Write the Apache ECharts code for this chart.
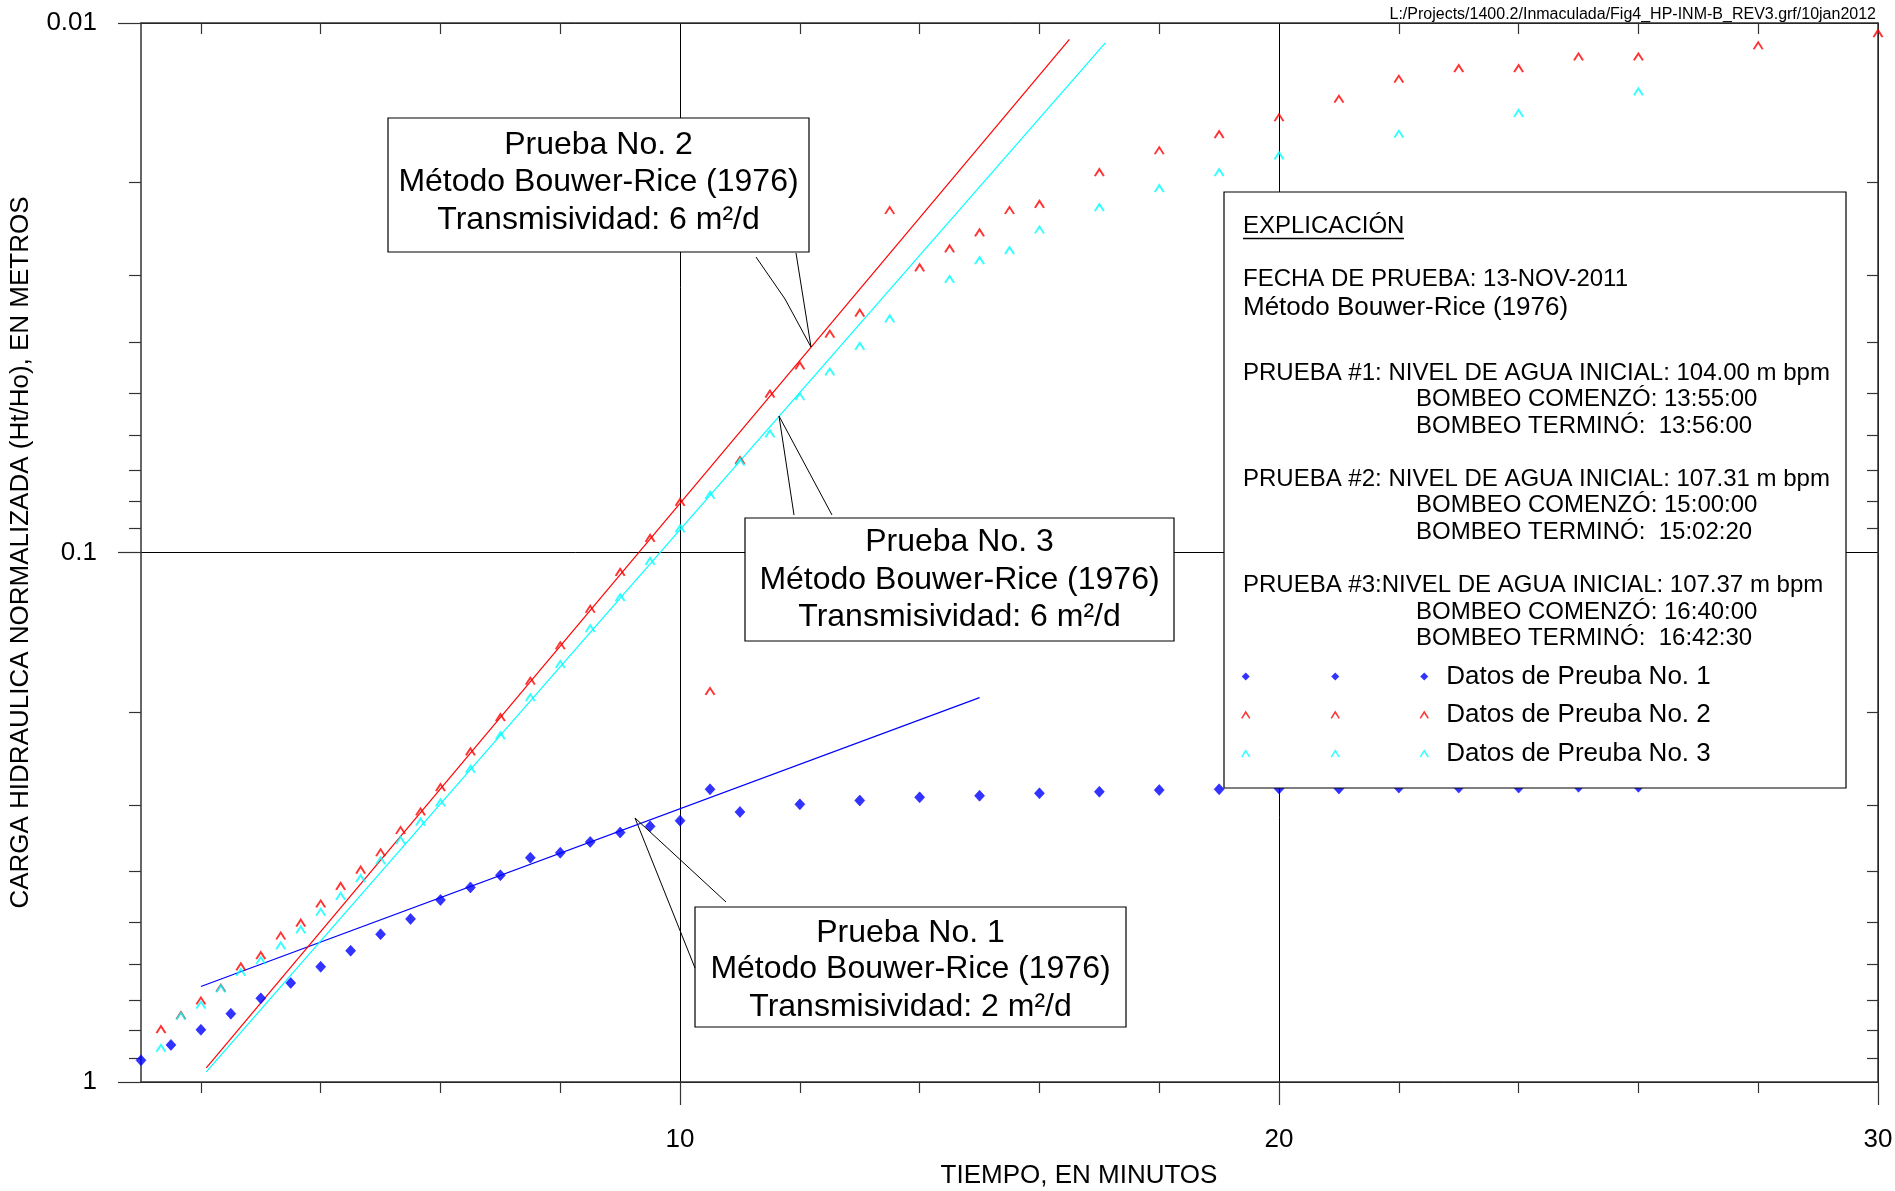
<!DOCTYPE html>
<html><head><meta charset="utf-8">
<script src="https://cdn.jsdelivr.net/npm/echarts@6/dist/echarts.min.js"></script>
<style>html,body{margin:0;padding:0;background:#fff}#c{width:1895px;height:1191px}</style>
</head><body><div id="c"></div>
<script>
const FONT = "'Liberation Sans', Arial, Helvetica, sans-serif";

// ---------- DATA ----------
const seriesNames = ['Datos de Preuba No. 1', 'Datos de Preuba No. 2', 'Datos de Preuba No. 3'];

// Prueba No. 1 (tiempo en minutos, Ht/Ho)
const t1 = [1, 1.5, 2, 2.5, 3, 3.5, 4, 4.5, 5, 5.5, 6, 6.5, 7, 7.5, 8, 8.5, 9, 9.5, 10, 10.5,
            11, 12, 13, 14, 15, 16, 17, 18, 19, 20, 21, 22, 23, 24, 25, 26];
const h1 = [0.91, 0.851, 0.797, 0.743, 0.695, 0.650, 0.606, 0.565, 0.526, 0.492, 0.453, 0.429, 0.407, 0.377, 0.369, 0.352, 0.338, 0.329, 0.321, 0.280,
            0.309, 0.299, 0.294, 0.290, 0.288, 0.285, 0.283, 0.281, 0.280, 0.279, 0.279, 0.278, 0.278, 0.278, 0.277, 0.277];

// Prueba No. 2
const t2 = [1.333, 1.667, 2, 2.333, 2.667, 3, 3.333, 3.667, 4, 4.333, 4.667, 5, 5.333, 5.667, 6,
            6.5, 7, 7.5, 8, 8.5, 9, 9.5, 10, 10.5, 11, 11.5, 12, 12.5, 13, 13.5, 14, 14.5, 15, 15.5, 16,
            17, 18, 19, 20, 21, 22, 23, 24, 25, 26, 28, 30];
const h2 = [0.796, 0.749, 0.703, 0.665, 0.606, 0.577, 0.530, 0.501, 0.461, 0.427, 0.398, 0.369, 0.335, 0.309, 0.278,
            0.238, 0.205, 0.175, 0.150, 0.128, 0.109, 0.094, 0.0804, 0.183, 0.067, 0.0502, 0.0444, 0.0387, 0.0353, 0.0226, 0.0290, 0.0267, 0.0249, 0.0226, 0.0220,
            0.01916, 0.01743, 0.01625, 0.01510, 0.01393, 0.01277, 0.01219, 0.01219, 0.01159, 0.01159, 0.01104, 0.01047];

// Prueba No. 3
const t3 = [1.333, 1.667, 2, 2.333, 2.667, 3, 3.333, 3.667, 4, 4.333, 4.667, 5, 5.333, 5.667, 6,
            6.5, 7, 7.5, 8, 8.5, 9, 9.5, 10, 10.5, 11, 11.5, 12, 12.5, 13, 13.5, 14.5, 15, 15.5, 16,
            17, 18, 19, 20, 22, 24, 26];
const h3 = [0.864, 0.751, 0.716, 0.667, 0.621, 0.590, 0.553, 0.516, 0.478, 0.446, 0.413, 0.382, 0.350, 0.323, 0.297,
            0.2567, 0.222, 0.188, 0.1627, 0.1393, 0.1217, 0.1039, 0.0902, 0.078, 0.0675, 0.0597, 0.0508, 0.0456, 0.0408, 0.0362, 0.0305, 0.0281, 0.0269, 0.0246,
            0.02231, 0.02054, 0.01916, 0.01782, 0.01622, 0.01481, 0.01349];

// Bouwer-Rice straight-line fits (end points)
const fit1T = [2.0, 15.0];  const fit1H = [0.660, 0.188];
const fit2T = [2.09, 16.5]; const fit2H = [0.9406, 0.01074];
const fit3T = [2.09, 17.1]; const fit3H = [0.957, 0.0109];

// Axis ticks / labels
const xMajor = [10, 20, 30];
const xMinor = [2, 4, 6, 8, 12, 14, 16, 18, 22, 24, 26, 28];
const yDecadeExp = [-2, -1];
const yMinorFactors = [2, 3, 4, 5, 6, 7, 8, 9];

// ---------- STYLE / LAYOUT ----------
const BLUE = '#0000ff', RED = '#ff0000', CYAN = '#00ffff';
const CARET = 'path://M0,8L5,0L10,8';
const AX = '#333';
const yMinorLog = [];
yDecadeExp.forEach(d => yMinorFactors.forEach(f => yMinorLog.push(d + Math.log10(f))));

const pair = (t, h) => t.map((v, i) => [v, h[i]]);

const annotBoxes = [
  {x: 388, y: 118, w: 421, h: 134, cx: 598.5,
   lines: ['Prueba No. 2', 'Método Bouwer-Rice (1976)', 'Transmisividad: 6 m²/d'], ly: [145, 182.4, 220],
   leaders: [[[756, 257], [785, 299], [811, 347]], [[796, 253], [811, 347]]]},
  {x: 745, y: 518, w: 429, h: 123, cx: 959.5,
   lines: ['Prueba No. 3', 'Método Bouwer-Rice (1976)', 'Transmisividad: 6 m²/d'], ly: [542.4, 580, 617.4],
   leaders: [[[794, 515], [779, 416]], [[832, 515], [779, 416]]]},
  {x: 695, y: 907, w: 431, h: 120, cx: 910.5,
   lines: ['Prueba No. 1', 'Método Bouwer-Rice (1976)', 'Transmisividad: 2 m²/d'], ly: [933, 969.3, 1006.8],
   leaders: [[[695, 968], [635, 818]], [[726, 902], [635, 818]]]}
];

const explBox = {x: 1224, y: 192, w: 622, h: 596};
const explTexts = [
  {t: 'EXPLICACIÓN', x: 1243, y: 226.5, s: 24},
  {t: 'FECHA DE PRUEBA: 13-NOV-2011', x: 1243, y: 279, s: 24},
  {t: 'Método Bouwer-Rice (1976)', x: 1243, y: 308, s: 26},
  {t: 'PRUEBA #1: NIVEL DE AGUA INICIAL: 104.00 m bpm', x: 1243, y: 373, s: 24},
  {t: 'BOMBEO COMENZÓ: 13:55:00', x: 1416, y: 399.4, s: 24},
  {t: 'BOMBEO TERMINÓ:  13:56:00', x: 1416, y: 426, s: 24},
  {t: 'PRUEBA #2: NIVEL DE AGUA INICIAL: 107.31 m bpm', x: 1243, y: 479.2, s: 24},
  {t: 'BOMBEO COMENZÓ: 15:00:00', x: 1416, y: 505.8, s: 24},
  {t: 'BOMBEO TERMINÓ:  15:02:20', x: 1416, y: 532.4, s: 24},
  {t: 'PRUEBA #3:NIVEL DE AGUA INICIAL: 107.37 m bpm', x: 1243, y: 585.6, s: 24},
  {t: 'BOMBEO COMENZÓ: 16:40:00', x: 1416, y: 612.1, s: 24},
  {t: 'BOMBEO TERMINÓ:  16:42:30', x: 1416, y: 638.8, s: 24}
];
const legendColX = [1245, 1334.5, 1423.5];

// ---------- GRAPHIC ----------
const graphic = [];
annotBoxes.forEach(b => {
  graphic.push({type: 'rect', z: 50, shape: {x: b.x, y: b.y, width: b.w, height: b.h},
    style: {fill: '#fff', stroke: '#000', lineWidth: 1.2}});
  b.lines.forEach((l, i) => graphic.push({type: 'text', z: 51, x: b.cx, y: b.ly[i],
    style: {text: l, fill: '#000', fontSize: 32, fontFamily: FONT, align: 'center', verticalAlign: 'middle'}}));
  b.leaders.forEach(p => graphic.push({type: 'polyline', z: 51, shape: {points: p},
    style: {stroke: '#000', lineWidth: 1, fill: null}}));
});
graphic.push({type: 'rect', z: 50, shape: {x: explBox.x, y: explBox.y, width: explBox.w, height: explBox.h},
  style: {fill: '#fff', stroke: '#000', lineWidth: 1.2}});
explTexts.forEach(e => graphic.push({type: 'text', z: 51, x: e.x, y: e.y,
  style: {text: e.t, fill: '#000', fontSize: e.s, fontFamily: FONT, align: 'left', verticalAlign: 'middle'}}));
graphic.push({type: 'line', z: 51, shape: {x1: 1243, y1: 238.5, x2: 1404, y2: 238.5}, style: {stroke: '#000', lineWidth: 1.6}});

// ---------- LEGENDS (three symbol columns, text only on the last) ----------
const legendData = [
  {name: seriesNames[0], icon: 'diamond', itemStyle: {color: BLUE, borderWidth: 0}},
  {name: seriesNames[1], icon: CARET, itemStyle: {color: 'rgba(0,0,0,0)', borderColor: RED, borderWidth: 1.5}},
  {name: seriesNames[2], icon: CARET, itemStyle: {color: 'rgba(0,0,0,0)', borderColor: CYAN, borderWidth: 1.5}}
];
const legends = legendColX.map((cx, c) => ({
  orient: 'vertical', left: cx - 4, top: 661.5, padding: 0,
  itemWidth: 8, itemHeight: 8, itemGap: 8.7, selectedMode: false, z: 60,
  data: legendData,
  formatter: c < 2 ? (() => ' ') : '{name}',
  textStyle: {fontSize: 26, lineHeight: 30, color: '#000', fontFamily: FONT,
              padding: c < 2 ? 0 : [0, 0, 0, 13]}
}));

// ---------- CHART ----------
const chart = echarts.init(document.getElementById('c'), null, {renderer: 'canvas'});
const hiddenAxisCommon = {axisLabel: {show: false}, splitLine: {show: false}};
chart.setOption({
  animation: false,
  backgroundColor: '#fff',
  textStyle: {fontFamily: FONT},
  title: {text: 'L:/Projects/1400.2/Inmaculada/Fig4_HP-INM-B_REV3.grf/10jan2012', right: 14, top: 2,
          textStyle: {fontSize: 16, fontWeight: 'normal', color: '#000', fontFamily: FONT}},
  grid: {left: 141, right: 17, top: 23, bottom: 109, containLabel: false, outerBoundsMode: 'none'},
  legend: legends,
  graphic: graphic,
  xAxis: [
    {type: 'value', min: 1, max: 30, position: 'bottom',
     name: 'TIEMPO, EN MINUTOS', nameLocation: 'middle', nameGap: 81,
     nameTextStyle: {fontSize: 26, color: '#000', fontFamily: FONT, padding: [0, 0, 0, 139]},
     axisLine: {show: true, lineStyle: {color: AX, width: 1.5}},
     axisTick: {show: true, customValues: xMajor, length: 23, lineStyle: {color: AX, width: 1.2}},
     axisLabel: {show: true, customValues: xMajor, fontSize: 26, color: '#000', margin: 45, fontFamily: FONT},
     splitLine: {show: true, lineStyle: {color: '#000', width: 1}}},
    Object.assign({type: 'value', min: 1, max: 30, position: 'bottom',
     axisLine: {show: false},
     axisTick: {show: true, customValues: xMinor, length: 11, lineStyle: {color: AX, width: 1.2}}}, hiddenAxisCommon),
    Object.assign({type: 'value', min: 1, max: 30, position: 'top',
     axisLine: {show: true, lineStyle: {color: AX, width: 1.5}},
     axisTick: {show: true, inside: true, customValues: xMinor, length: 11, lineStyle: {color: AX, width: 1.2}}}, hiddenAxisCommon)
  ],
  yAxis: [
    {type: 'log', logBase: 10, min: 0.01, max: 1, inverse: true, position: 'left',
     name: 'CARGA HIDRAULICA NORMALIZADA (Ht/Ho), EN METROS', nameLocation: 'middle', nameGap: 107,
     nameTextStyle: {fontSize: 26, color: '#000', fontFamily: FONT},
     axisLine: {show: true, lineStyle: {color: AX, width: 1.5}},
     axisTick: {show: true, length: 23, lineStyle: {color: AX, width: 1.2}},
     axisLabel: {show: true, fontSize: 26, color: '#000', margin: 44, fontFamily: FONT},
     splitLine: {show: true, lineStyle: {color: '#000', width: 1}}},
    Object.assign({type: 'value', min: -2, max: 0, inverse: true, position: 'left',
     axisLine: {show: false},
     axisTick: {show: true, customValues: yMinorLog, length: 12, lineStyle: {color: AX, width: 1.2}}}, hiddenAxisCommon),
    Object.assign({type: 'value', min: -2, max: 0, inverse: true, position: 'right',
     axisLine: {show: true, lineStyle: {color: AX, width: 1.5}},
     axisTick: {show: true, inside: true, customValues: yMinorLog, length: 11, lineStyle: {color: AX, width: 1.2}}}, hiddenAxisCommon)
  ],
  series: [
    {type: 'line', name: 'fit1', data: pair(fit1T, fit1H), symbol: 'none', silent: true,
     lineStyle: {color: BLUE, width: 1.2}, z: 2},
    {type: 'line', name: 'fit2', data: pair(fit2T, fit2H), symbol: 'none', silent: true,
     lineStyle: {color: RED, width: 1.2}, z: 2},
    {type: 'line', name: 'fit3', data: pair(fit3T, fit3H), symbol: 'none', silent: true,
     lineStyle: {color: CYAN, width: 1.2}, z: 2},
    {type: 'scatter', name: seriesNames[0], data: pair(t1, h1), symbol: 'diamond', symbolSize: [10, 11],
     clip: false, itemStyle: {color: BLUE, borderColor: BLUE, borderWidth: 0.6}, z: 3},
    {type: 'scatter', name: seriesNames[1], data: pair(t2, h2), symbol: CARET, symbolSize: [9, 7],
     clip: false, itemStyle: {color: 'rgba(0,0,0,0)', borderColor: RED, borderWidth: 1.8}, z: 3},
    {type: 'scatter', name: seriesNames[2], data: pair(t3, h3), symbol: CARET, symbolSize: [9, 7],
     clip: false, itemStyle: {color: 'rgba(0,0,0,0)', borderColor: CYAN, borderWidth: 1.8}, z: 3}
  ]
});
</script></body></html>
